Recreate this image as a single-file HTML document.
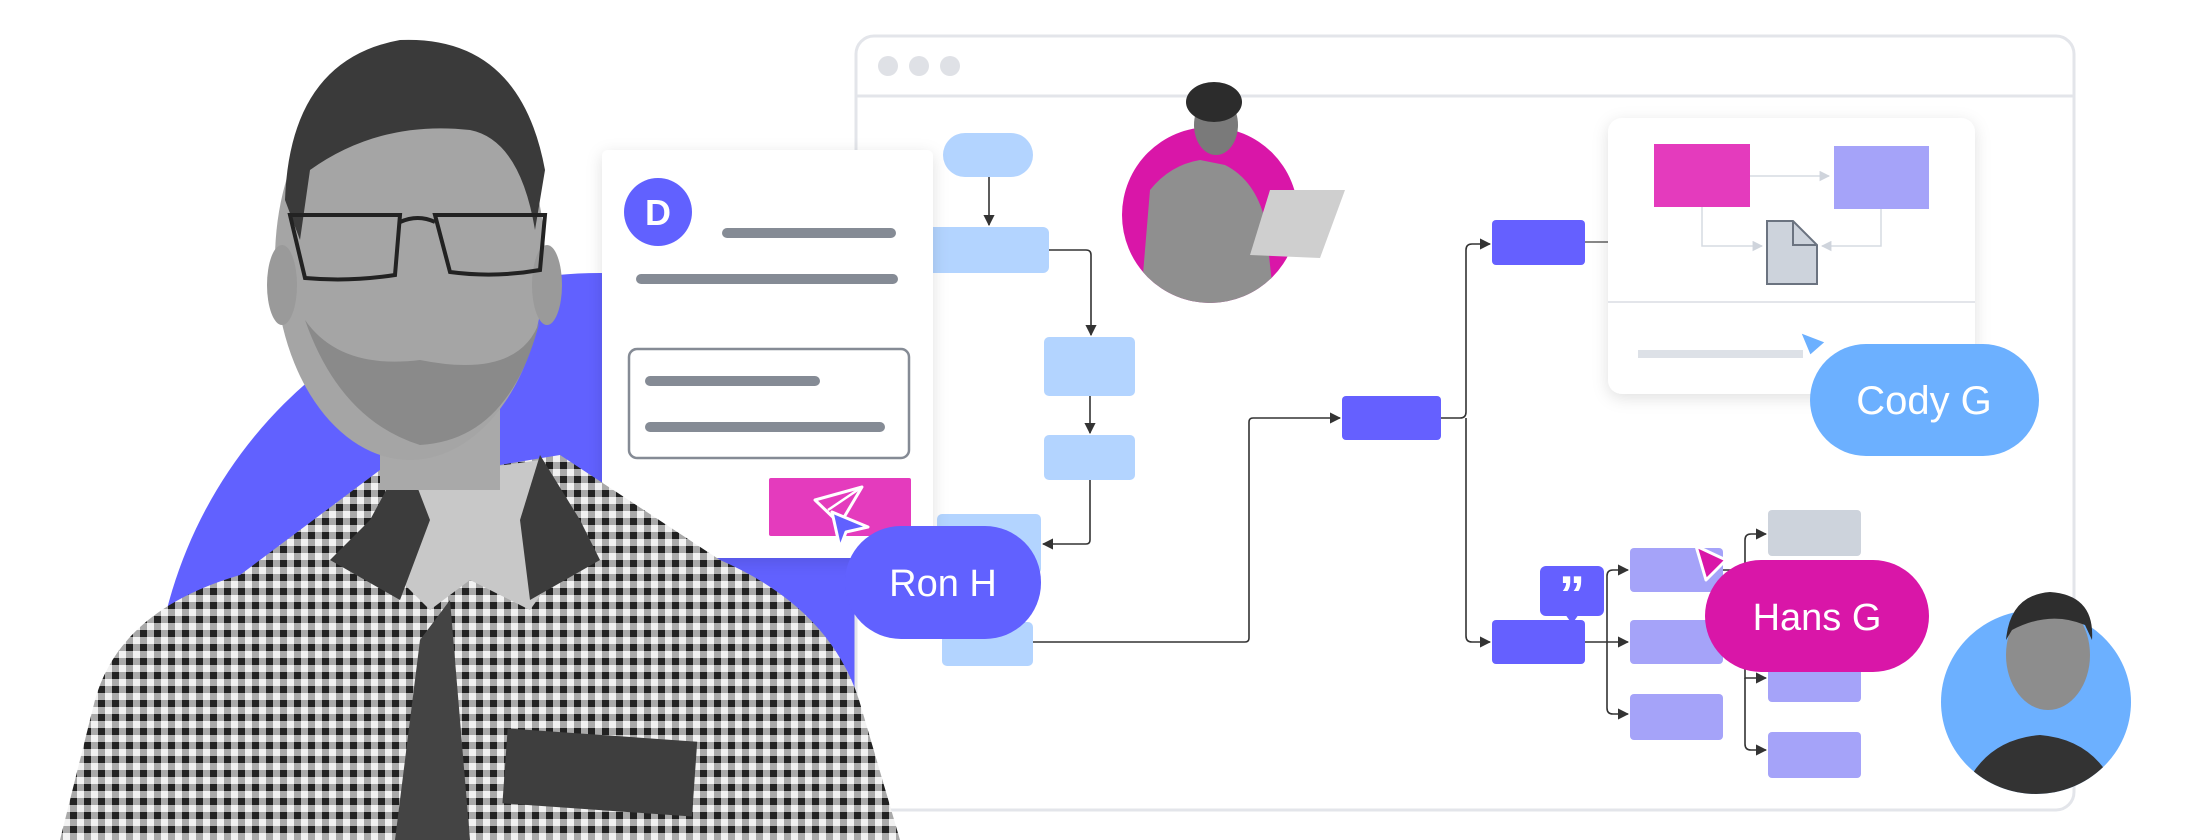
<!DOCTYPE html>
<html><head><meta charset="utf-8"><style>
html,body{margin:0;padding:0;background:#fff;width:2200px;height:840px;overflow:hidden;}
svg{display:block}
text{font-family:"Liberation Sans",sans-serif;}
</style></head><body>
<svg width="2200" height="840" viewBox="0 0 2200 840" xmlns="http://www.w3.org/2000/svg">
<defs>
<pattern id="chk" width="14" height="14" patternUnits="userSpaceOnUse">
<rect width="14" height="14" fill="#f2f2f2"/>
<rect width="7" height="14" fill="#8a8a8a" opacity="0.7"/>
<rect width="14" height="7" fill="#8a8a8a" opacity="0.7"/>
<rect width="7" height="7" fill="#222"/>
</pattern>
<marker id="ar" viewBox="0 0 10 10" refX="9" refY="5" markerWidth="7" markerHeight="7" orient="auto"><path d="M0,0 L10,5 L0,10 z" fill="#333"/></marker>
<marker id="arl" viewBox="0 0 10 10" refX="9" refY="5" markerWidth="7" markerHeight="7" orient="auto"><path d="M0,0 L10,5 L0,10 z" fill="#cfd4dc"/></marker>
<filter id="sh" x="-20%" y="-20%" width="140%" height="140%"><feDropShadow dx="0" dy="4" stdDeviation="8" flood-color="#000" flood-opacity="0.12"/></filter>
<clipPath id="c1"><circle cx="1210" cy="215" r="88"/></clipPath>
<clipPath id="c2"><ellipse cx="2036" cy="702" rx="95" ry="92"/></clipPath>
<clipPath id="cl"><rect x="0" y="0" width="856" height="840"/></clipPath>
</defs>

<!-- big purple circle -->
<circle cx="600" cy="720" r="447" fill="#6161ff" clip-path="url(#cl)"/>

<!-- browser window -->
<rect x="856" y="36" width="1218" height="774" rx="18" fill="#fff" stroke="#e3e5ea" stroke-width="3"/>
<line x1="856" y1="96" x2="2074" y2="96" stroke="#e3e5ea" stroke-width="3"/>
<circle cx="888" cy="66" r="10" fill="#dfe1e6"/>
<circle cx="919" cy="66" r="10" fill="#dfe1e6"/>
<circle cx="950" cy="66" r="10" fill="#dfe1e6"/>

<!-- left flow -->
<g fill="#b3d4ff">
<rect x="943" y="133" width="90" height="44" rx="22"/>
<rect x="925" y="227" width="124" height="46" rx="6"/>
<rect x="1044" y="337" width="91" height="59" rx="5"/>
<rect x="1044" y="435" width="91" height="45" rx="5"/>
<rect x="937" y="514" width="104" height="60" rx="5"/>
<rect x="942" y="622" width="91" height="44" rx="5"/>
</g>
<g fill="none" stroke="#333" stroke-width="1.6">
<path d="M989 177 V225" marker-end="url(#ar)"/>
<path d="M1049 250 H1086 Q1091 250 1091 255 V335" marker-end="url(#ar)"/>
<path d="M1090 396 V433" marker-end="url(#ar)"/>
<path d="M1090 480 V540 Q1090 544 1086 544 H1043" marker-end="url(#ar)"/>
<path d="M1033 642 H1245 Q1249 642 1249 638 V422 Q1249 418 1253 418 H1340" marker-end="url(#ar)"/>
<path d="M1441 418 H1460 Q1466 418 1466 412 V250 Q1466 244 1472 244 H1490" marker-end="url(#ar)"/>
<path d="M1466 418 V636 Q1466 642 1472 642 H1490" marker-end="url(#ar)"/>
<path d="M1585 642 H1628" marker-end="url(#ar)"/>
<path d="M1607 642 V576 Q1607 570 1613 570 H1628" marker-end="url(#ar)"/>
<path d="M1607 642 V708 Q1607 714 1613 714 H1628" marker-end="url(#ar)"/>
<path d="M1723 570 H1745 M1745 570 V540 Q1745 534 1751 534 H1766" marker-end="url(#ar)"/>
<path d="M1745 570 V678 H1766" marker-end="url(#ar)"/>
<path d="M1745 678 V744 Q1745 750 1751 750 H1766" marker-end="url(#ar)"/>
</g>
<line x1="1585" y1="242" x2="1610" y2="242" stroke="#888" stroke-width="2"/>

<!-- purple boxes -->
<g fill="#6560ff">
<rect x="1342" y="396" width="99" height="44" rx="4"/>
<rect x="1492" y="220" width="93" height="45" rx="4"/>
<rect x="1492" y="620" width="93" height="44" rx="4"/>
</g>
<g fill="#a5a3f9">
<rect x="1630" y="548" width="93" height="44" rx="4"/>
<rect x="1630" y="620" width="93" height="44" rx="4"/>
<rect x="1630" y="694" width="93" height="46" rx="4"/>
<rect x="1768" y="658" width="93" height="44" rx="4"/>
<rect x="1768" y="732" width="93" height="46" rx="4"/>
</g>
<rect x="1768" y="510" width="93" height="46" rx="4" fill="#cdd3dc"/>

<!-- quote bubble -->
<rect x="1540" y="566" width="64" height="50" rx="6" fill="#6560ff"/>
<path d="M1565 614 L1572 624 L1579 614 Z" fill="#6560ff"/>
<text x="1572" y="612" text-anchor="middle" font-size="52" font-weight="bold" fill="#fff">”</text>

<!-- top right card -->
<g filter="url(#sh)"><rect x="1608" y="118" width="367" height="276" rx="14" fill="#fff"/></g>
<line x1="1608" y1="302" x2="1975" y2="302" stroke="#e3e5ea" stroke-width="2"/>
<rect x="1654" y="144" width="96" height="63" fill="#e43bbd"/>
<rect x="1834" y="146" width="95" height="63" fill="#a5a3f9"/>
<g fill="none" stroke="#d6dbe2" stroke-width="1.5">
<path d="M1750 176 H1829" marker-end="url(#arl)"/>
<path d="M1702 207 V246 H1762" marker-end="url(#arl)"/>
<path d="M1881 209 V246 H1822" marker-end="url(#arl)"/>
</g>
<path d="M1767 221 H1793 L1817 245 V284 H1767 Z" fill="#cdd3dc" stroke="#6b7380" stroke-width="2"/>
<path d="M1793 221 V245 H1817" fill="none" stroke="#6b7380" stroke-width="2"/>
<rect x="1638" y="350" width="165" height="8" fill="#dde1e7"/>

<!-- card D -->
<g filter="url(#sh)"><rect x="602" y="150" width="331" height="408" rx="6" fill="#fff"/></g>
<circle cx="658" cy="212" r="34" fill="#6161ff"/>
<text x="658" y="225" text-anchor="middle" font-size="36" font-weight="bold" fill="#fff">D</text>
<g stroke="#858b95" stroke-width="10" stroke-linecap="round">
<line x1="727" y1="233" x2="891" y2="233"/>
<line x1="641" y1="279" x2="893" y2="279"/>
<line x1="650" y1="381" x2="815" y2="381"/>
<line x1="650" y1="427" x2="880" y2="427"/>
</g>
<rect x="629" y="349" width="280" height="109" rx="8" fill="none" stroke="#858b95" stroke-width="2.5"/>
<rect x="769" y="478" width="142" height="58" rx="2" fill="#e43bbd"/>
<path d="M815 500 L862 487 L840 524 Z" fill="none" stroke="#fff" stroke-width="3" stroke-linejoin="round"/>
<path d="M828 510 L862 487" stroke="#fff" stroke-width="2.5"/>
<path d="M832 512 L868 527 L846 532 L840 548 Z" fill="#6161ff" stroke="#fff" stroke-width="3" stroke-linejoin="round"/>

<!-- man -->
<path d="M60 840 L95 700 Q120 610 240 575 L400 455 L470 470 L560 455 L720 560 Q835 610 862 710 L900 840 Z" fill="url(#chk)"/>
<path d="M400 455 L470 470 L540 460 L580 540 L530 610 L470 580 L430 610 L380 560 Z" fill="#c8c8c8"/>
<path d="M405 455 L370 520 L330 560 L400 600 L430 520 Z" fill="#3c3c3c"/>
<path d="M540 455 L580 520 L600 560 L530 600 L520 520 Z" fill="#3c3c3c"/>
<path d="M420 640 L450 600 L470 840 L395 840 Z" fill="#444"/>
<rect x="505" y="735" width="190" height="75" fill="#3e3e3e" transform="rotate(4 600 770)"/>
<rect x="380" y="390" width="120" height="100" fill="#a9a9a9"/>
<ellipse cx="410" cy="260" rx="135" ry="200" fill="#a5a5a5"/>
<path d="M285 200 Q290 60 400 40 Q520 35 545 170 L535 230 Q520 140 470 130 Q380 120 310 170 L300 240 Z" fill="#3a3a3a"/>
<path d="M305 320 Q340 420 420 445 Q510 440 540 320 Q520 380 420 360 Q340 370 305 320 Z" fill="#8a8a8a"/>
<ellipse cx="282" cy="285" rx="15" ry="40" fill="#9a9a9a"/>
<ellipse cx="547" cy="285" rx="15" ry="40" fill="#9a9a9a"/>
<g fill="none" stroke="#222" stroke-width="4">
<path d="M290 215 H400 L395 275 Q350 282 305 278 Z"/>
<path d="M435 215 H545 L540 270 Q495 278 450 272 Z"/>
<path d="M400 222 Q418 214 435 222"/>
</g>

<!-- Ron H -->
<rect x="845" y="526" width="196" height="113" rx="56" fill="#6161ff"/>
<text x="943" y="596" text-anchor="middle" font-size="38" fill="#fff">Ron H</text>

<!-- top person -->
<circle cx="1210" cy="215" r="88" fill="#d916a8"/>
<g clip-path="url(#c1)">
<path d="M1140 310 L1150 190 Q1170 165 1200 160 L1225 165 Q1255 180 1265 220 L1275 310 Z" fill="#8f8f8f"/>
</g>
<path d="M1250 255 L1270 190 L1345 190 L1320 258 Z" fill="#cfcfcf"/>
<ellipse cx="1216" cy="125" rx="22" ry="30" fill="#7a7a7a"/>
<ellipse cx="1214" cy="102" rx="28" ry="20" fill="#2c2c2c"/>

<!-- bottom right person -->
<ellipse cx="2036" cy="702" rx="95" ry="92" fill="#6cb0ff"/>
<g clip-path="url(#c2)">
<path d="M1960 800 Q1980 740 2040 735 Q2100 740 2120 800 Z" fill="#333"/>
</g>
<ellipse cx="2048" cy="655" rx="42" ry="55" fill="#8d8d8d"/>
<path d="M2006 640 Q2010 595 2050 592 Q2095 595 2092 640 L2085 625 Q2050 610 2012 630 Z" fill="#2e2e2e"/>

<!-- Cody G -->
<path d="M1800 332 L1826 342 L1810 356 Z" fill="#6cb0ff" stroke="#fff" stroke-width="2"/>
<rect x="1810" y="344" width="229" height="112" rx="56" fill="#6cb0ff"/>
<text x="1924" y="414" text-anchor="middle" font-size="40" fill="#fff">Cody G</text>

<!-- Hans G -->
<path d="M1696 546 L1726 560 L1706 580 Z" fill="#d916a8" stroke="#fff" stroke-width="3" stroke-linejoin="round"/>
<rect x="1705" y="560" width="224" height="112" rx="56" fill="#d916a8"/>
<text x="1817" y="630" text-anchor="middle" font-size="38" fill="#fff">Hans G</text>
</svg>
</body></html>
